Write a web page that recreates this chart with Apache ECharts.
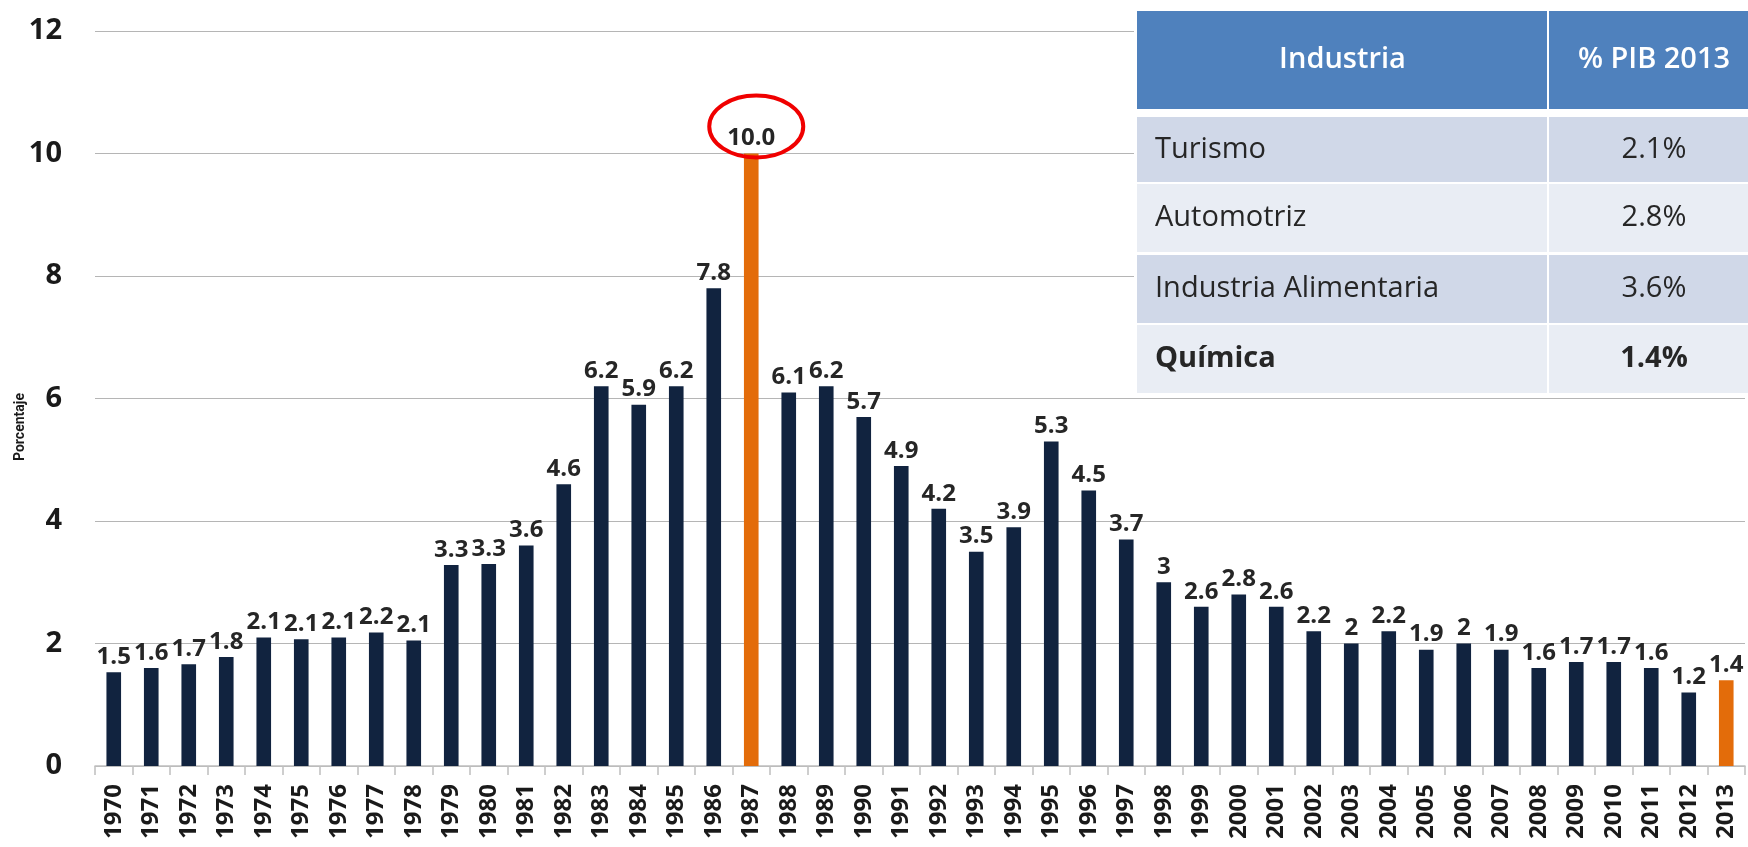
<!DOCTYPE html>
<html>
<head>
<meta charset="utf-8">
<script src="https://cdn.jsdelivr.net/npm/echarts@6/dist/echarts.min.js"></script>
<style>
  html, body { margin: 0; padding: 0; background: #fff; }
  #box { width: 1748px; height: 847px; }
</style>
</head>
<body>
<div id="box"></div>
<script>
// datos
var years = [];
for (var y = 1970; y <= 2013; y++) years.push(String(y));

var values = [1.53, 1.6, 1.66, 1.78, 2.1, 2.07, 2.1, 2.18, 2.05, 3.28, 3.3, 3.6, 4.6, 6.2, 5.9, 6.2, 7.8, 10.0,
    6.1, 6.2, 5.7, 4.9, 4.2, 3.5, 3.9, 5.3, 4.5, 3.7, 3, 2.6, 2.8, 2.6, 2.2, 2, 2.2, 1.9, 2, 1.9,
    1.6, 1.7, 1.7, 1.6, 1.2, 1.4];
var labels = ['1.5', '1.6', '1.7', '1.8', '2.1', '2.1', '2.1', '2.2', '2.1', '3.3', '3.3', '3.6', '4.6', '6.2', '5.9', '6.2', '7.8', '10.0',
    '6.1', '6.2', '5.7', '4.9', '4.2', '3.5', '3.9', '5.3', '4.5', '3.7', '3', '2.6', '2.8', '2.6', '2.2', '2', '2.2', '1.9', '2', '1.9',
    '1.6', '1.7', '1.7', '1.6', '1.2', '1.4'];
var highlightYears = ['1987', '2013'];

// tabla
var tableHeader = ['Industria', '% PIB 2013'];
var industrias = ['Turismo', 'Automotriz', 'Industria Alimentaria', 'Química'];
var pib = ['2.1%', '2.8%', '3.6%', '1.4%'];
var boldRows = [false, false, false, true];

var navy = '#11233f';
var orange = '#e36c0a';
var txt = '#262626';

var chart = echarts.init(document.getElementById('box'));

// tabla con graphic
var tbl = [];
var tx = 1137, c1 = 1548, c2 = 1760;
var rowTops = [11, 117, 184, 255, 325];
var rowBots = [109, 182, 252, 323, 393];
tbl.push({ type: 'rect', shape: { x: tx - 3, y: 8, width: c2 - tx + 3, height: 390 }, style: { fill: '#fff' }, z: 100 });
tbl.push({ type: 'rect', shape: { x: tx, y: rowTops[0], width: c1 - tx - 1, height: rowBots[0] - rowTops[0] }, style: { fill: '#4f81bd' }, z: 101 });
tbl.push({ type: 'rect', shape: { x: c1 + 1, y: rowTops[0], width: c2 - c1, height: rowBots[0] - rowTops[0] }, style: { fill: '#4f81bd' }, z: 101 });
tbl.push({ type: 'text', x: (tx + c1) / 2, y: (rowTops[0] + rowBots[0]) / 2, style: { text: tableHeader[0], fill: '#fff', font: '600 29px "Open Sans"', align: 'center', verticalAlign: 'middle' }, z: 102 });
tbl.push({ type: 'text', x: 1654, y: (rowTops[0] + rowBots[0]) / 2, style: { text: tableHeader[1], fill: '#fff', font: '600 29px "Open Sans"', align: 'center', verticalAlign: 'middle' }, z: 102 });
industrias.forEach(function (name, i) {
    var top = rowTops[i + 1], bot = rowBots[i + 1];
    var fill = i % 2 === 0 ? '#d0d8e8' : '#e9edf4';
    var w = boldRows[i] ? 'bold ' : '';
    tbl.push({ type: 'rect', shape: { x: tx, y: top, width: c1 - tx - 1, height: bot - top }, style: { fill: fill }, z: 101 });
    tbl.push({ type: 'rect', shape: { x: c1 + 1, y: top, width: c2 - c1, height: bot - top }, style: { fill: fill }, z: 101 });
    tbl.push({ type: 'text', x: 1155, y: (top + bot) / 2, style: { text: name, fill: txt, font: w + '29px "Open Sans"', align: 'left', verticalAlign: 'middle' }, z: 102 });
    tbl.push({ type: 'text', x: 1654, y: (top + bot) / 2, style: { text: pib[i], fill: txt, font: w + '29px "Open Sans"', align: 'center', verticalAlign: 'middle' }, z: 102 });
});
tbl.push({ type: 'text', x: 20, y: 427, rotation: Math.PI / 2, style: { text: 'Porcentaje', fill: '#1a1a1a', font: 'bold 14px "Liberation Sans Narrow", "Roboto", sans-serif', align: 'center', verticalAlign: 'middle' }, z: 50 });

var option = {
    animation: false,
    grid: { left: 95, right: 3, top: 31, bottom: 81, containLabel: false },
    xAxis: {
        type: 'category',
        data: years,
        axisLine: { lineStyle: { color: '#bfbfbf', width: 1.5 } },
        axisTick: { show: true, length: 9, lineStyle: { color: '#bfbfbf', width: 1.5 } },
        axisLabel: {
            rotate: 90, interval: 0, margin: 18,
            color: '#1a1a1a', fontFamily: 'Open Sans', fontWeight: 'bold', fontSize: 24
        }
    },
    yAxis: {
        type: 'value',
        min: 0, max: 12, interval: 2,
        axisLine: { show: false },
        axisTick: { show: false },
        splitLine: { lineStyle: { color: '#b5b5b5', width: 1.2 } },
        axisLabel: { margin: 33, color: '#1a1a1a', fontFamily: 'Open Sans', fontWeight: 'bold', fontSize: 29 }
    },
    series: [{
        type: 'bar',
        barWidth: '39%',
        data: values.map(function (v, i) {
            return {
                value: v,
                itemStyle: { color: highlightYears.indexOf(years[i]) >= 0 ? orange : navy }
            };
        }),
        label: {
            show: true,
            position: 'top',
            distance: 3,
            color: txt,
            fontFamily: 'Open Sans',
            fontWeight: 'bold',
            fontSize: 24,
            formatter: function (p) { return labels[p.dataIndex]; }
        }
    }],
    graphic: tbl
};
chart.setOption(option);

// elipse roja alrededor de 1987
var pt = chart.convertToPixel({ seriesIndex: 0 }, ['1987', 10]);
tbl.push({
    type: 'ellipse',
    shape: { cx: pt[0] + 5, cy: pt[1] - 27, rx: 47, ry: 31 },
    style: { fill: 'none', stroke: '#f00000', lineWidth: 4 },
    z: 120
});
chart.setOption({ graphic: tbl });
</script>
</body>
</html>
